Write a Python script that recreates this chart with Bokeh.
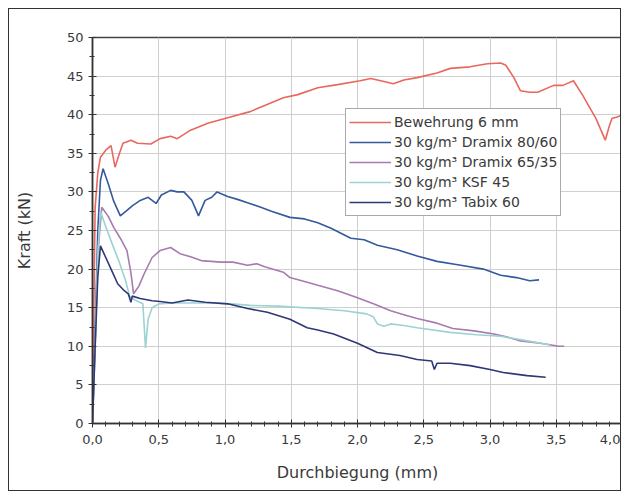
from bokeh.plotting import figure
from bokeh.models import (Legend, LegendItem, SingleIntervalTicker, CustomJSTickFormatter, Range1d)
from bokeh.embed import file_html
from bokeh.resources import INLINE

# ---- data ----
bew_x = [0.0, 0.01, 0.02, 0.04, 0.06, 0.1, 0.14, 0.17, 0.2, 0.23, 0.29, 0.34, 0.44, 0.51, 0.59, 0.64,
         0.74, 0.87, 1.02, 1.19, 1.3, 1.44, 1.55, 1.7, 1.85, 2.02, 2.1, 2.2, 2.27, 2.35, 2.45, 2.6,
         2.7, 2.85, 2.98, 3.08, 3.12, 3.18, 3.23, 3.3, 3.36, 3.48, 3.55, 3.63, 3.7, 3.8, 3.87, 3.9,
         3.92, 3.96, 4.0]
bew_y = [0, 15, 28, 32.5, 34.5, 35.4, 36.0, 33.2, 34.8, 36.3, 36.7, 36.3, 36.2, 36.9, 37.2, 36.9,
         38.0, 38.9, 39.6, 40.4, 41.2, 42.2, 42.6, 43.5, 43.9, 44.4, 44.7, 44.3, 44.0, 44.5, 44.8, 45.4,
         46.0, 46.2, 46.6, 46.7, 46.4, 44.8, 43.1, 42.9, 42.9, 43.8, 43.8, 44.4, 42.5, 39.5, 36.7, 38.5,
         39.5, 39.7, 40.0]

d80_x = [0.0, 0.02, 0.04, 0.06, 0.08, 0.12, 0.16, 0.21, 0.26, 0.3, 0.36, 0.42, 0.48, 0.52, 0.59, 0.64,
         0.69, 0.75, 0.8, 0.85, 0.9, 0.94, 1.02, 1.1, 1.17, 1.27, 1.35, 1.49, 1.6, 1.7, 1.8, 1.95,
         2.05, 2.15, 2.3, 2.45, 2.6, 2.78, 2.95, 3.08, 3.2, 3.3, 3.37]
d80_y = [0, 12, 25, 31.5, 33.0, 31.0, 28.8, 26.9, 27.6, 28.2, 28.9, 29.3, 28.5, 29.6, 30.2, 30.0,
         30.0, 28.9, 26.9, 28.9, 29.3, 30.0, 29.4, 29.0, 28.6, 28.0, 27.5, 26.7, 26.5, 26.0, 25.3, 24.0,
         23.8, 23.1, 22.5, 21.7, 21.0, 20.5, 20.0, 19.2, 18.9, 18.5, 18.6]

d65_x = [0.0, 0.02, 0.04, 0.07, 0.12, 0.16, 0.21, 0.26, 0.29, 0.31, 0.35, 0.39, 0.45, 0.51, 0.59, 0.66,
         0.74, 0.82, 0.97, 1.06, 1.17, 1.24, 1.3, 1.44, 1.49, 1.6, 1.7, 1.85, 2.0, 2.12, 2.25, 2.35,
         2.45, 2.6, 2.72, 2.88, 3.03, 3.13, 3.23, 3.38, 3.52, 3.56]
d65_y = [0, 10, 22, 28.0, 26.8, 25.4, 24.0, 22.4, 19.5, 16.8, 17.8, 19.4, 21.5, 22.4, 22.8, 22.0,
         21.6, 21.1, 20.9, 20.9, 20.5, 20.7, 20.3, 19.6, 18.9, 18.4, 17.9, 17.2, 16.3, 15.5, 14.6, 14.1,
         13.6, 13.0, 12.3, 12.0, 11.6, 11.2, 10.7, 10.4, 10.0, 10.0]

ksf_x = [0.0, 0.02, 0.04, 0.06, 0.1, 0.15, 0.2, 0.25, 0.28, 0.32, 0.38, 0.4, 0.42, 0.45, 0.5, 0.6,
         0.75, 0.9, 1.05, 1.19, 1.4, 1.7, 1.9, 2.07, 2.12, 2.15, 2.2, 2.25, 2.35, 2.45, 2.7, 2.9,
         3.08, 3.25, 3.45]
ksf_y = [0, 10, 22, 27.5, 25.5, 23.2, 21.0, 18.5, 16.5, 16.0, 15.5, 9.8, 13.5, 15.0, 15.5, 15.6,
         15.6, 15.6, 15.5, 15.3, 15.2, 14.9, 14.6, 14.2, 13.8, 12.9, 12.6, 12.9, 12.7, 12.4, 11.8, 11.5,
         11.3, 10.8, 10.2]

tab_x = [0.0, 0.02, 0.04, 0.06, 0.1, 0.14, 0.19, 0.24, 0.27, 0.29, 0.3, 0.36, 0.45, 0.51, 0.6, 0.72,
         0.85, 1.02, 1.17, 1.32, 1.49, 1.62, 1.7, 1.82, 2.0, 2.15, 2.32, 2.45, 2.56, 2.58, 2.6, 2.7,
         2.85, 3.0, 3.1, 3.28, 3.42]
tab_y = [0, 10, 19, 23.0, 21.5, 20.0, 18.1, 17.2, 16.8, 15.7, 16.5, 16.2, 15.9, 15.8, 15.6, 16.0,
         15.7, 15.5, 14.9, 14.4, 13.5, 12.4, 12.1, 11.6, 10.4, 9.2, 8.8, 8.3, 8.1, 7.0, 7.8, 7.8,
         7.5, 7.0, 6.6, 6.2, 6.0]

series_labels = ["Bewehrung 6 mm", "30 kg/m³ Dramix 80/60", "30 kg/m³ Dramix 65/35",
                 "30 kg/m³ KSF 45", "30 kg/m³ Tabix 60"]
series_colors = ["#e8685e", "#34599c", "#a77bae", "#9bd3d2", "#2f3877"]

x_label = "Durchbiegung (mm)"
y_label = "Kraft (kN)"

FONT = "DejaVu Sans"
TXT = "#3a3a3a"

p = figure(width=613, height=483, output_backend="svg", toolbar_location=None,
           x_range=Range1d(0, 4), y_range=Range1d(0, 50),
           min_border_left=83, min_border_right=0, min_border_top=28, min_border_bottom=69,
           background_fill_color="white", border_fill_color="white",
           margin=(8, 0, 0, 8))
p.styles = {"border": "1px solid #333"}

p.outline_line_color = "#444444"
p.outline_line_width = 1.5

p.xaxis.ticker = SingleIntervalTicker(interval=0.5, num_minor_ticks=5)
p.yaxis.ticker = SingleIntervalTicker(interval=5, num_minor_ticks=2)
p.xaxis.formatter = CustomJSTickFormatter(code="return tick.toFixed(1).replace('.', ',');")

for ax in (p.xaxis[0], p.yaxis[0]):
    ax.axis_line_color = "#333333"
    ax.axis_line_width = 1.5
    ax.major_tick_line_color = "#333333"
    ax.minor_tick_line_color = "#333333"
    ax.major_tick_in = 4
    ax.major_tick_out = 4
    ax.minor_tick_in = 2
    ax.minor_tick_out = 3
    ax.major_label_text_font = FONT
    ax.major_label_text_font_size = "13px"
    ax.major_label_text_color = TXT
    ax.axis_label_text_font = FONT
    ax.axis_label_text_font_size = "16px"
    ax.axis_label_text_font_style = "normal"
    ax.axis_label_text_color = TXT

p.xaxis.axis_label = x_label
p.yaxis.axis_label = y_label
p.xaxis.major_label_standoff = 7
p.yaxis.major_label_standoff = 5
p.xaxis.axis_label_standoff = 16
p.yaxis.axis_label_standoff = 30

p.grid.grid_line_color = "#cfcfcf"
p.grid.grid_line_width = 1

xs = [bew_x, d80_x, d65_x, ksf_x, tab_x]
ys = [bew_y, d80_y, d65_y, ksf_y, tab_y]
renderers = []
for x, y, c in zip(xs, ys, series_colors):
    r = p.line(x, y, line_color=c, line_width=1.6)
    renderers.append(r)

items = [LegendItem(label=l, renderers=[r]) for l, r in zip(series_labels, renderers)]
legend = Legend(items=items, location=(253, 207), padding=3, spacing=0,
                glyph_width=42, glyph_height=20, label_height=20, label_standoff=3,
                label_text_font=FONT, label_text_font_size="14px", label_text_color=TXT,
                border_line_color="#555555", border_line_width=1.5,
                background_fill_color="white", background_fill_alpha=1.0)
p.add_layout(legend)

open("out.html", "w").write(file_html(p, INLINE))
